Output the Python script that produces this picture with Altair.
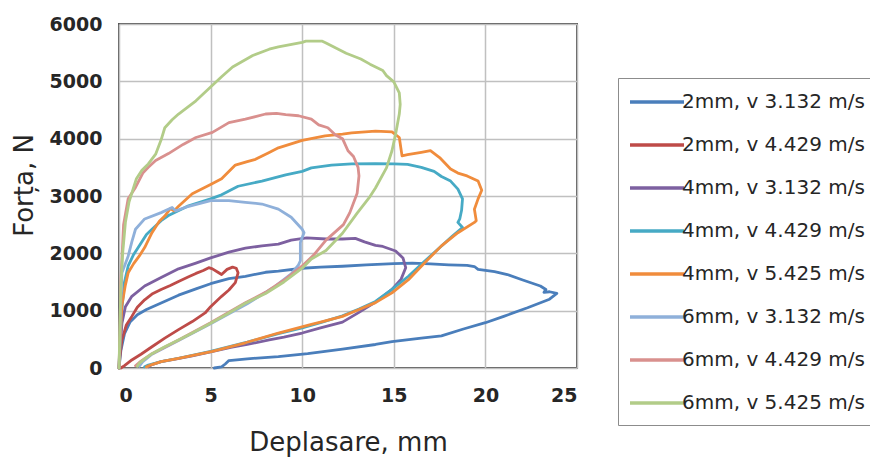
import altair as alt
import pandas as pd

SERIES = ["2mm, v 3.132 m/s", "2mm, v 4.429 m/s", "4mm, v 3.132 m/s", "4mm, v 4.429 m/s",
          "4mm, v 5.425 m/s", "6mm, v 3.132 m/s", "6mm, v 4.429 m/s", "6mm, v 5.425 m/s"]
COLORS = ["#4A7EBB", "#BE4B48", "#7D60A0", "#46AAC5", "#F08C3C", "#8FB0DA", "#D9908E", "#B2CC88"]

# 2mm, v 3.132 m/s
S1_X = [0, 0.1, 0.3, 0.6, 1.0, 1.5, 2.3, 3.25, 4.2, 5.0, 6.0, 6.9, 8.0, 8.7, 10.0, 11.0, 12.2, 13.5, 15.0, 16.0,
        17.0, 18.0, 19.0, 19.4, 19.6, 20.5, 21.2, 22.0, 23.0, 23.3, 23.2, 23.5, 23.9, 23.5, 22.3, 21.0, 20.0, 18.8,
        17.6, 16.5, 14.9, 14.0, 12.2, 10.3, 8.7, 7.0, 6.0, 5.8, 5.6, 5.2]
S1_Y = [0, 300, 600, 800, 930, 1020, 1135, 1270, 1380, 1470, 1560, 1600, 1670, 1690, 1740, 1760, 1775, 1800, 1820, 1830,
        1815, 1800, 1790, 1770, 1720, 1680, 1630, 1540, 1430, 1370, 1320, 1330, 1300, 1200, 1050, 900, 790, 680,
        560, 520, 460, 410, 330, 250, 200, 160, 130, 70, 20, 0]

# 2mm, v 4.429 m/s
S2_X = [0, 0.05, 0.16, 0.4, 0.7, 1.0, 1.4, 1.8, 2.3, 2.8, 3.25, 3.8, 4.2, 4.6, 4.9, 5.1, 5.4, 5.6, 5.9, 6.2, 6.4,
        6.5, 6.35, 6.0, 5.6, 5.0, 4.7, 4.0, 3.25, 2.5, 1.8, 1.2, 0.7, 0.3, 0.1]
S2_Y = [0, 200, 490, 750, 900, 1060, 1190, 1290, 1370, 1440, 1510, 1590, 1650, 1700, 1750, 1730, 1670, 1630, 1720, 1760, 1740,
        1660, 1490, 1360, 1250, 1070, 960, 810, 670, 520, 370, 240, 140, 40, 0]

# 4mm, v 3.132 m/s
S3_X = [0, 0.05, 0.16, 0.35, 0.7, 1.4, 2.3, 3.25, 4.2, 5.0, 6.0, 6.9, 7.8, 8.7, 9.4, 10.25, 11.3, 12.2, 12.9, 13.4,
        14.0, 14.4, 15.1, 15.5, 15.65, 15.4, 14.9, 14.0, 13.1, 12.2, 11.0, 10.0, 9.0, 8.2, 7.0, 6.1, 5.0, 4.0, 3.0,
        2.3, 1.8, 1.6]
S3_Y = [0, 300, 780, 1070, 1250, 1430, 1580, 1730, 1830, 1920, 2020, 2090, 2130, 2160, 2230, 2270, 2250, 2250, 2260, 2200,
        2140, 2120, 2040, 1920, 1750, 1550, 1370, 1150, 970, 800, 700, 610, 540, 490, 410, 360, 280, 210, 150,
        110, 60, 20]

# 4mm, v 4.429 m/s
S4_X = [0, 0.05, 0.15, 0.3, 0.5, 0.8, 1.1, 1.5, 1.8, 2.3, 2.7, 3.35, 3.8, 5.0, 5.6, 6.5, 7.8, 9.1, 10.0, 10.5, 11.6,
        12.7, 14.0, 15.0, 15.75, 16.5, 17.2, 17.6, 18.1, 18.5, 18.75, 18.7, 18.6, 18.5, 18.75, 18.2, 17.3, 16.5,
        15.8, 14.9, 14.0, 13.1, 12.2, 11.0, 10.0, 8.7, 7.0, 5.0, 3.25, 2.3, 1.6, 1.4]
S4_Y = [0, 400, 1000, 1500, 1780, 1980, 2130, 2330, 2420, 2570, 2660, 2760, 2830, 2950, 3020, 3170, 3260, 3370, 3430, 3490, 3540,
        3560, 3565, 3560, 3550, 3500, 3430, 3340, 3260, 3120, 2950, 2750, 2600, 2540, 2450, 2300, 2040, 1810,
        1600, 1370, 1160, 1030, 910, 790, 700, 600, 450, 290, 170, 110, 50, 20]

# 4mm, v 5.425 m/s
S5_X = [0, 0.05, 0.16, 0.35, 0.5, 0.8, 1.1, 1.4, 1.8, 2.2, 2.5, 2.8, 3.0, 3.25, 4.0, 5.0, 5.6, 6.35, 7.0, 7.45, 8.2,
        8.7, 10.0, 11.25, 12.2, 12.7, 14.0, 14.9, 15.3, 15.45, 15.75, 16.5, 17.0, 17.5, 18.1, 18.5, 19.0, 19.6,
        19.8, 19.6, 19.4, 19.5, 19.4, 18.5, 17.6, 16.7, 15.8, 14.9, 14.0, 13.1, 12.2, 11.0, 10.5, 8.7, 6.9, 5.1,
        3.25, 2.3, 1.8, 1.5]
S5_Y = [0, 400, 1100, 1450, 1660, 1820, 1950, 2100, 2360, 2560, 2650, 2780, 2740, 2820, 3040, 3200, 3300, 3540, 3600, 3640, 3760,
        3840, 3970, 4050, 4080, 4100, 4130, 4120, 4020, 3700, 3720, 3760, 3790, 3670, 3470, 3400, 3350, 3260,
        3100, 2950, 2770, 2570, 2540, 2360, 2130, 1840, 1540, 1310, 1140, 1020, 900, 800, 760, 610, 440, 290,
        170, 110, 60, 20]

# 6mm, v 3.132 m/s
S6_X = [0, 0.05, 0.1, 0.16, 0.5, 0.7, 0.9, 1.4, 2.3, 2.9, 3.1, 3.6, 5.0, 6.0, 6.9, 7.8, 8.7, 9.4, 10.0, 10.1, 9.9,
        9.9, 9.8, 9.4, 8.5, 7.0, 5.0, 3.25, 1.8, 1.3, 1.1]
S6_Y = [0, 500, 1200, 1660, 1950, 2200, 2420, 2600, 2710, 2800, 2740, 2800, 2920, 2920, 2890, 2860, 2770, 2630, 2420, 2360, 2190,
        1870, 1800, 1640, 1420, 1120, 770, 480, 240, 110, 30]

# 6mm, v 4.429 m/s
S7_X = [0, 0.05, 0.1, 0.25, 0.5, 0.9, 1.3, 1.6, 2.0, 2.7, 3.5, 4.2, 5.1, 6.0, 6.9, 8.0, 8.6, 9.1, 9.8, 10.5, 10.9,
        11.4, 11.8, 12.2, 12.5, 12.8, 13.05, 13.1, 13.0, 12.6, 12.25, 11.3, 10.6, 10.0, 9.0, 8.0, 6.9, 5.0, 3.25,
        1.8, 1.2, 0.9]
S7_Y = [0, 600, 1500, 2500, 2950, 3150, 3400, 3500, 3620, 3740, 3900, 4020, 4110, 4280, 4340, 4430, 4440, 4420, 4400, 4340, 4240,
        4190, 4070, 4000, 3790, 3690, 3500, 3350, 3050, 2710, 2500, 2230, 1960, 1780, 1530, 1320, 1140, 790, 490,
        250, 120, 40]

# 6mm, v 5.425 m/s
S8_X = [0, 0.05, 0.1, 0.2, 0.35, 0.55, 0.7, 0.95, 1.25, 1.6, 2.0, 2.3, 2.5, 2.9, 3.25, 4.2, 5.0, 5.6, 6.2, 7.3, 8.2,
        8.7, 10.0, 10.2, 11.1, 11.3, 12.4, 13.2, 13.7, 14.4, 14.6, 15.0, 15.3, 15.35, 15.3, 15.1, 14.9, 14.6, 14.0,
        13.7, 13.0, 12.2, 11.3, 10.5, 10.0, 9.0, 8.0, 6.9, 6.0, 5.0, 4.0, 3.25, 2.5, 1.8, 1.4, 1.1, 1.0]
S8_Y = [0, 700, 1400, 2000, 2540, 2900, 3050, 3300, 3450, 3560, 3730, 3980, 4190, 4330, 4430, 4660, 4900, 5080, 5250, 5450, 5560,
        5600, 5680, 5700, 5700, 5670, 5490, 5390, 5300, 5190, 5100, 4990, 4800, 4600, 4430, 4080, 3790, 3490, 3140,
        2990, 2700, 2350, 2050, 1900, 1740, 1500, 1300, 1130, 960, 780, 610, 490, 370, 250, 160, 80, 30]

XS = [S1_X, S2_X, S3_X, S4_X, S5_X, S6_X, S7_X, S8_X]
YS = [S1_Y, S2_Y, S3_Y, S4_Y, S5_Y, S6_Y, S7_Y, S8_Y]

X_TICKS = [0, 5, 10, 15, 20, 25]
Y_TICKS = [0, 1000, 2000, 3000, 4000, 5000, 6000]

rows = []
for si, (name, xs, ys) in enumerate(zip(SERIES, XS, YS)):
    for i, (x, y) in enumerate(zip(xs, ys)):
        rows.append({"series": name, "s": si, "i": i, "x": x, "y": y})
df = pd.DataFrame(rows)

FONT = "DejaVu Sans"

chart = alt.Chart(df).mark_line(strokeWidth=2.8, strokeJoin="round", strokeCap="round").encode(
    x=alt.X("x:Q", scale=alt.Scale(domain=[0, 25], nice=False),
            axis=alt.Axis(values=X_TICKS, format="d", title="Deplasare, mm",
                          labelPadding=18, titlePadding=24)),
    y=alt.Y("y:Q", scale=alt.Scale(domain=[0, 6000], nice=False),
            axis=alt.Axis(values=Y_TICKS, format="d", title="Forța, N",
                          labelPadding=17, titleX=-82, titleY=161, titleBaseline="bottom", titleAngle=270)),
    color=alt.Color("series:N", scale=alt.Scale(domain=SERIES, range=COLORS),
                    legend=alt.Legend(orient="none", legendX=499, legendY=54, title=None,
                                      symbolType="M-1.2,0H4.2", symbolStrokeWidth=3.5, symbolSize=400,
                                      labelFontSize=20, labelFont=FONT, labelColor="#262626",
                                      strokeColor="#8c8c8c", fillColor="white", padding=12,
                                      rowPadding=21, labelOffset=28, labelLimit=500)),
    detail="s:N",
    order=alt.Order("i:Q"),
).properties(
    width=458, height=344,
    autosize=alt.AutoSizeParams(type="none"),
    padding={"left": 111, "top": 16, "right": 293, "bottom": 92},
).configure_view(
    stroke="#555555", strokeWidth=2
).configure_axis(
    grid=True, gridColor="#c0c0c0", gridWidth=1.5, domain=False, ticks=False,
    labelFont=FONT, labelFontSize=19, labelFontWeight="bold", labelColor="#262626",
    titleFont=FONT, titleFontSize=26, titleFontWeight="normal", titleColor="#262626",
)

chart.save("out.html", embed_options={"renderer": "svg", "actions": False})
